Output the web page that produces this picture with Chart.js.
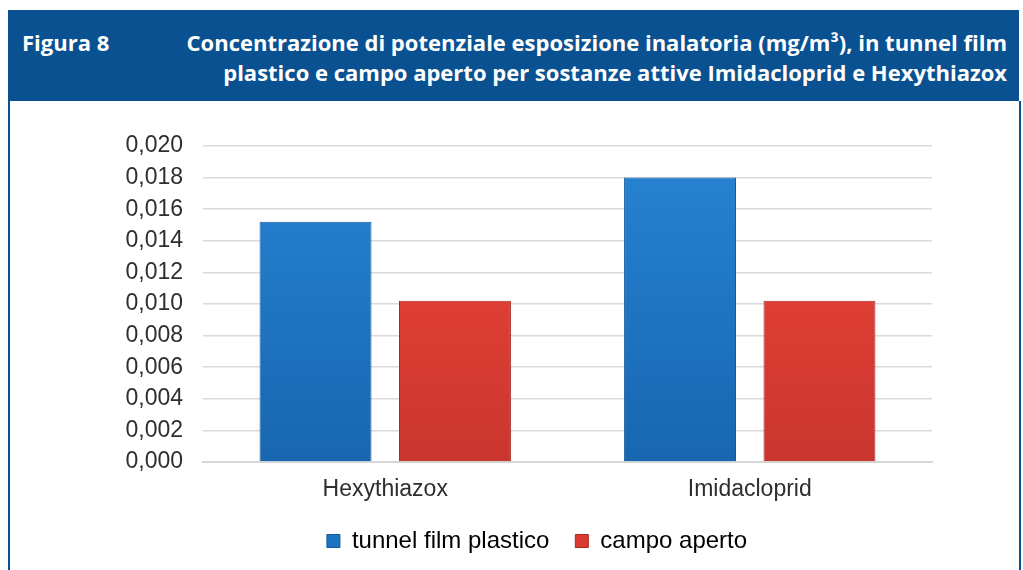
<!DOCTYPE html>
<html>
<head>
<meta charset="utf-8">
<script src="https://cdn.jsdelivr.net/npm/chart.js@4"></script>
<style>
  html, body { margin: 0; padding: 0; background: #fff; }
  body { width: 1023px; height: 570px; position: relative; overflow: hidden; }
  .header {
    position: absolute; left: 8px; top: 10px; width: 1011px; height: 91px;
    background: #0a5191; color: #fff;
    font-family: "Open Sans", sans-serif; font-weight: 700; font-size: 22px;
  }
  .fig { position: absolute; left: 14px; top: 17px; line-height: 30px; }
  .title {
    position: absolute; right: 12px; top: 17px; text-align: right; line-height: 30px;
    white-space: nowrap;
  }
  .frame {
    position: absolute; left: 8px; top: 101px; width: 1009px; height: 475px;
    border-left: 2px solid #0a5191; border-right: 2px solid #0a5191;
  }
  #wrap { position: absolute; left: 10px; top: 101px; width: 1008px; height: 469px; }
</style>
</head>
<body>
<div class="header">
  <div class="fig">Figura 8</div>
  <div class="title">Concentrazione di potenziale esposizione inalatoria (mg/m³), in tunnel film<br>plastico e campo aperto per sostanze attive Imidacloprid e Hexythiazox</div>
</div>
<div class="frame"></div>
<div id="wrap"><canvas id="chart-1"></canvas></div>
<script>
const categories = ["Hexythiazox", "Imidacloprid"];
const tunnelValues = [0.0152, 0.0180];
const campoValues = [0.0102, 0.0102];
const seriesNames = ["tunnel film plastico", "campo aperto"];

// gradiente verticale per l'effetto "rilievo" delle barre
function barFill(top, bottom) {
  return function (context) {
    const area = context.chart.chartArea;
    if (!area) return bottom;
    const g = context.chart.ctx.createLinearGradient(0, area.top, 0, area.bottom);
    g.addColorStop(0, top);
    g.addColorStop(1, bottom);
    return g;
  };
}

const ctx1 = document.getElementById("chart-1").getContext("2d");
const myChart = new Chart(ctx1, {
  type: "bar",
  data: {
    labels: categories,
    datasets: [
      {
        label: seriesNames[0],
        data: tunnelValues,
        backgroundColor: barFill("#2784d4", "#1866b0"),
        borderColor: "#14599c",
        borderWidth: 1,
        categoryPercentage: 0.765,
        barPercentage: 0.803,
      },
      {
        label: seriesNames[1],
        data: campoValues,
        backgroundColor: barFill("#f2463a", "#c9362e"),
        borderColor: "#a72a24",
        borderWidth: 1,
        categoryPercentage: 0.765,
        barPercentage: 0.803,
      },
    ],
  },
  options: {
    responsive: true,
    maintainAspectRatio: false,
    animation: false,
    layout: { padding: { top: 45, right: 0, bottom: 7, left: 46 } },
    plugins: {
      tooltip: { enabled: false },
      legend: {
        position: "bottom",
        labels: {
          boxWidth: 13,
          boxHeight: 13,
          color: "#2e2e2e",
          padding: 26,
          font: { family: "Liberation Sans", size: 24 },
          generateLabels: (chart) => chart.data.datasets.map((ds, i) => ({
            text: ds.label,
            fillStyle: i === 0 ? "#1f74c2" : "#d93a31",
            strokeStyle: i === 0 ? "#14599c" : "#a72a24",
            lineWidth: 1,
            datasetIndex: i,
          })),
        },
      },
    },
    scales: {
      x: {
        afterFit: (scale) => { scale.height = 41; },
        grid: { display: false, drawTicks: false },
        border: { color: "#d6d6d6", width: 2 },
        ticks: { color: "#2e2e2e", padding: 14, font: { family: "Liberation Sans", size: 23 } },
      },
      y: {
        min: 0,
        max: 0.02,
        afterFit: (scale) => { scale.width = 147; },
        grid: { color: "#dadada", lineWidth: 1.5, drawTicks: false },
        border: { display: false },
        ticks: {
          stepSize: 0.002,
          autoSkip: false,
          padding: 20,
          color: "#2e2e2e",
          font: { family: "Liberation Sans", size: 23 },
          callback: (v) => v.toFixed(3).replace(".", ","),
        },
      },
      // asse vuoto a destra, solo per lasciare spazio
      y2: {
        position: "right",
        afterFit: (scale) => { scale.width = 86; },
        grid: { display: false },
        border: { display: false },
        ticks: { display: false },
      },
    },
  },
});
</script>
</body>
</html>
